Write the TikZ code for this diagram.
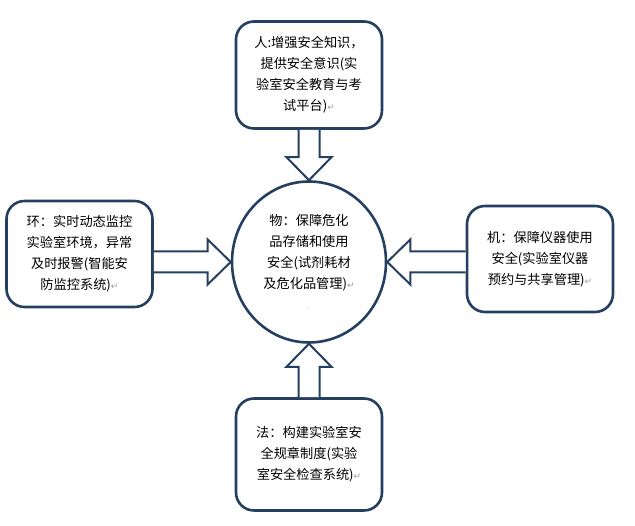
\documentclass[tikz,border=0pt]{standalone}
\usepackage{fontspec}
\setmainfont{Noto Sans CJK SC}
\newfontfamily\symfont{DejaVu Sans}
\usetikzlibrary{shapes.geometric,positioning,calc}

\definecolor{outline}{HTML}{243F60}
\newcommand{\retmark}{{\symfont\fontsize{9pt}{9pt}\selectfont\color{gray!75}↵}}

% hollow block arrow, vertical and horizontal
\newcommand{\vblock}[2]{%
    \draw[bigarr] let \p1=(#1), \p2=(#2), \n1={sign(\y2-\y1)} in
        (\x1-10.5pt,\y1) -- (\x1-10.5pt,\y2-\n1*23pt) -- (\x1-22.5pt,\y2-\n1*23pt)
        -- (\x1,\y2) -- (\x1+22.5pt,\y2-\n1*23pt) -- (\x1+10.5pt,\y2-\n1*23pt)
        -- (\x1+10.5pt,\y1);}
\newcommand{\hblock}[2]{%
    \draw[bigarr] let \p1=(#1), \p2=(#2), \n1={sign(\x2-\x1)} in
        (\x1,\y2-10.5pt) -- (\x2-\n1*23pt,\y2-10.5pt) -- (\x2-\n1*23pt,\y2-22.5pt)
        -- (\x2,\y2) -- (\x2-\n1*23pt,\y2+22.5pt) -- (\x2-\n1*23pt,\y2+10.5pt)
        -- (\x1,\y2+10.5pt);}

\begin{document}
\begin{tikzpicture}[
        x=1pt, y=1pt,
        bigarr/.style={draw=outline, line width=2pt, fill=white, line join=miter},
        every node/.style={font=\fontsize{13.2pt}{21pt}\selectfont, align=center}
    ]

    \tikzstyle{block} = [rectangle,draw=outline,line width=2.6pt,rounded corners=18pt,
        fill=white,minimum width=146pt,minimum height=106pt,inner sep=0pt]
    \tikzstyle{center} = [ellipse,draw=outline,line width=2.6pt,fill=white,
        minimum width=154pt,minimum height=161pt,inner sep=0pt]

    \useasboundingbox (0,0) rectangle (635,526);

    \node[center] (wu) at (309,264)
        {物：保障危化\\品存储和使用\\安全(试剂耗材\\及危化品管理)\retmark\\{\color{gray}\scriptsize .}};
    \node[block, minimum height=107pt] (ren) [above of=wu, node distance=187pt]
        {人:增强安全知识，\\提供安全意识(实\\验室安全教育与考\\试平台)\retmark};
    \node[block, minimum height=112pt] (fa) [below of=wu, node distance=192.5pt]
        {法：构建实验室安\\全规章制度(实验\\室安全检查系统)\retmark};
    \node[block] (huan) [left of=wu, node distance=229.5pt, yshift=8pt]
        {环：实时动态监控\\实验室环境，异常\\及时报警(智能安\\防监控系统)\retmark};
    \node[block] (ji) [right of=wu, node distance=231pt, yshift=3pt]
        {机：保障仪器使用\\安全(实验室仪器\\预约与共享管理)\retmark};

    \vblock{ren.south}{wu.north}
    \vblock{fa.north}{wu.south}
    \hblock{huan.east}{wu.west}
    \hblock{ji.west}{wu.east}

\end{tikzpicture}
\end{document}
